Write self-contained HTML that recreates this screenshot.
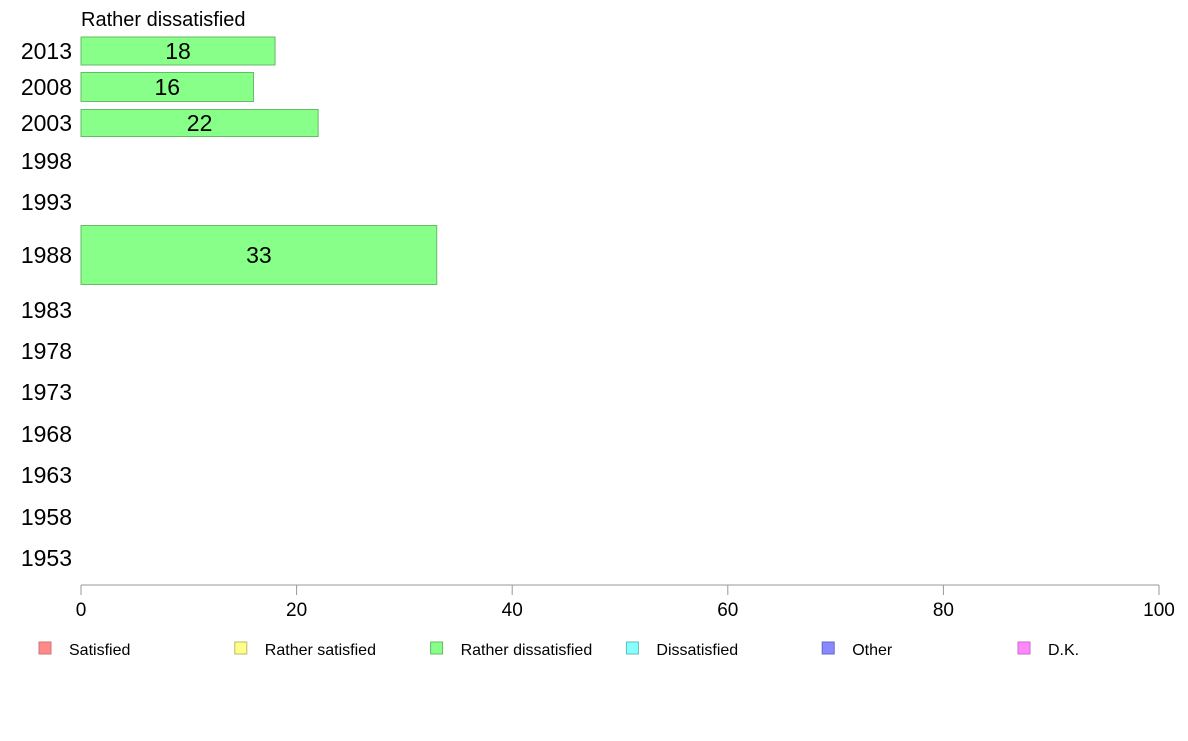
<!DOCTYPE html>
<html><head><meta charset="utf-8"><style>
body{margin:0;background:#fff;font-family:"Liberation Sans",sans-serif}
svg text{font-family:"Liberation Sans",sans-serif}
</style></head><body>
<svg id="chart" width="1188" height="736">
<text x="81" y="26" font-size="20">Rather dissatisfied</text>
<g id="rows"></g>
<g id="axis"></g>
<g id="legend"></g>
</svg>
<script>
const years=["2013","2008","2003","1998","1993","1988","1983","1978","1973","1968","1963","1958","1953"];
const values=[18,16,22,null,null,33,null,null,null,null,null,null,null];
const ticks=[0,20,40,60,80,100];
const legendItems=["Satisfied","Rather satisfied","Rather dissatisfied","Dissatisfied","Other","D.K."];
const legendColors=["#ff8888","#ffff88","#88ff88","#88ffff","#8888ff","#ff88ff"];
const legendStroke=["#cc7777","#bbbb66","#66bb66","#66bbbb","#6666cc","#cc66cc"];
// layout (row center y and bar half-height)
const rowCenter=[51,87,123,161,202,255,310,351,392,434,475,517,558];
const rowHalf=[14,14.5,13.5,14,14,29.5,14,14,14,14,14,14,14];
const NS="http://www.w3.org/2000/svg";
const x=v=>81+v*(1159-81)/100;
const rows=document.getElementById('rows');
years.forEach((y,i)=>{
  const t=document.createElementNS(NS,'text');
  
  
  t.setAttribute('x',72);t.setAttribute('y',rowCenter[i]+8);t.setAttribute('text-anchor','end');t.setAttribute('font-size','23');
  t.textContent=y;rows.appendChild(t);
  if(values[i]!=null){
    const r=document.createElementNS(NS,'rect');
    
    
    r.setAttribute('x',x(0));r.setAttribute('y',rowCenter[i]-rowHalf[i]);
    r.setAttribute('width',x(values[i])-x(0));r.setAttribute('height',rowHalf[i]*2);
    r.setAttribute('fill','#88ff88');r.setAttribute('stroke','#66bb66');r.setAttribute('stroke-width','1');
    rows.appendChild(r);
    const l=document.createElementNS(NS,'text');
    
    
    l.setAttribute('x',(x(0)+x(values[i]))/2);l.setAttribute('y',rowCenter[i]+8);l.setAttribute('text-anchor','middle');l.setAttribute('font-size','23');
    l.textContent=values[i];rows.appendChild(l);
  }
});
const axis=document.getElementById('axis');
const al=document.createElementNS(NS,'line');


al.setAttribute('x1',x(0));al.setAttribute('x2',x(100));al.setAttribute('y1',585);al.setAttribute('y2',585);al.setAttribute('stroke','#999');
axis.appendChild(al);
ticks.forEach(v=>{
  const tl=document.createElementNS(NS,'line');
  
  
  tl.setAttribute('x1',x(v));tl.setAttribute('x2',x(v));tl.setAttribute('y1',585);tl.setAttribute('y2',595);tl.setAttribute('stroke','#999');
  axis.appendChild(tl);
  const tt=document.createElementNS(NS,'text');
  
  
  tt.setAttribute('x',x(v));tt.setAttribute('y',616);tt.setAttribute('text-anchor','middle');tt.setAttribute('font-size','19');
  tt.textContent=v;axis.appendChild(tt);
});
const lg=document.getElementById('legend');
legendItems.forEach((n,i)=>{
  const lx=39+i*195.8;
  const r=document.createElementNS(NS,'rect');
  
  
  r.setAttribute('x',lx);r.setAttribute('y',642);r.setAttribute('width',12);r.setAttribute('height',12);
  r.setAttribute('fill',legendColors[i]);r.setAttribute('stroke',legendStroke[i]);
  lg.appendChild(r);
  const t=document.createElementNS(NS,'text');
  
  
  t.setAttribute('x',lx+30);t.setAttribute('y',655);t.setAttribute('font-size','16');
  t.textContent=n;lg.appendChild(t);
});
</script>
</body></html>
